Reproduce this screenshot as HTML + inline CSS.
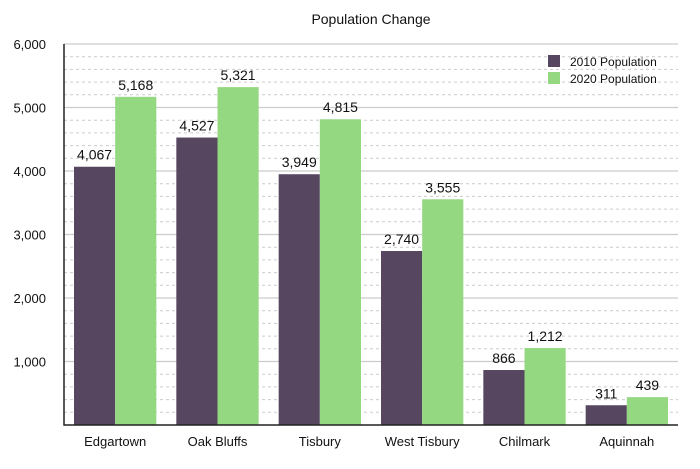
<!DOCTYPE html>
<html><head><meta charset="utf-8"><style>
body{margin:0;background:#fff;font-family:"Liberation Sans",sans-serif}
</style></head><body>
<svg id="c" width="700" height="464" xmlns="http://www.w3.org/2000/svg"></svg>
<script>
const categories=["Edgartown","Oak Bluffs","Tisbury","West Tisbury","Chilmark","Aquinnah"];
const pop2010=[4067,4527,3949,2740,866,311];
const pop2020=[5168,5321,4815,3555,1212,439];
const yTicks=[0,1000,2000,3000,4000,5000,6000];
const yTickLabels=["","1,000","2,000","3,000","4,000","5,000","6,000"];
const seriesNames=["2010 Population","2020 Population"];
const colors=["#574660","#94d882"];
const L=64,R=678,T=44,B=425,yMax=6000;
const svg=document.getElementById('c');const NS="http://www.w3.org/2000/svg";
function y(v){return B-(v/yMax)*(B-T);}
const bw=(R-L)/categories.length;
function mk(t,a,p){const e=document.createElementNS(NS,t);for(const k in a)e.setAttribute(k,a[k]);(p||svg).appendChild(e);return e;}
const title=mk('text',{x:(L+R)/2,y:24,'text-anchor':'middle','font-size':14,fill:'#111'});title.textContent="Population Change";


// minor grid
for(let v=200;v<yMax;v+=200){if(v%1000===0)continue;const g=mk('line',{x1:L,x2:R,y1:y(v),y2:y(v),stroke:'#ccc','stroke-dasharray':'3,3','stroke-width':1});

}
yTicks.forEach((v,i)=>{if(v>0){const g=mk('line',{x1:L,x2:R,y1:y(v),y2:y(v),stroke:'#ccc','stroke-width':1.2});

}
const t=mk('text',{x:46,y:y(v)+5,'text-anchor':'end','font-size':13,fill:'#111'});t.textContent=yTickLabels[i];

});
categories.forEach((c,i)=>{const x0=L+i*bw+10,w=(bw-20)/2;
[pop2010[i],pop2020[i]].forEach((v,s)=>{const bx=x0+s*w;
const r=mk('rect',{x:bx,y:y(v),width:w,height:B-y(v),fill:colors[s]});


const t=mk('text',{x:bx+w/2,y:y(v)-7,'text-anchor':'middle','font-size':14,fill:'#111'});t.textContent=v.toLocaleString('en-US');

});
const t=mk('text',{x:L+i*bw+bw/2,y:446,'text-anchor':'middle','font-size':13,fill:'#111'});t.textContent=c;

});
const ax=mk('path',{d:`M${L},${T} V${B} H${R}`,stroke:'#222','stroke-width':1.5,fill:'none'});


seriesNames.forEach((n,s)=>{const sq=mk('rect',{x:548,y:55+s*17,width:12,height:12,fill:colors[s]});


const t=mk('text',{x:570,y:66+s*17,'font-size':12,fill:'#111'});t.textContent=n;

});
</script>
</body></html>
